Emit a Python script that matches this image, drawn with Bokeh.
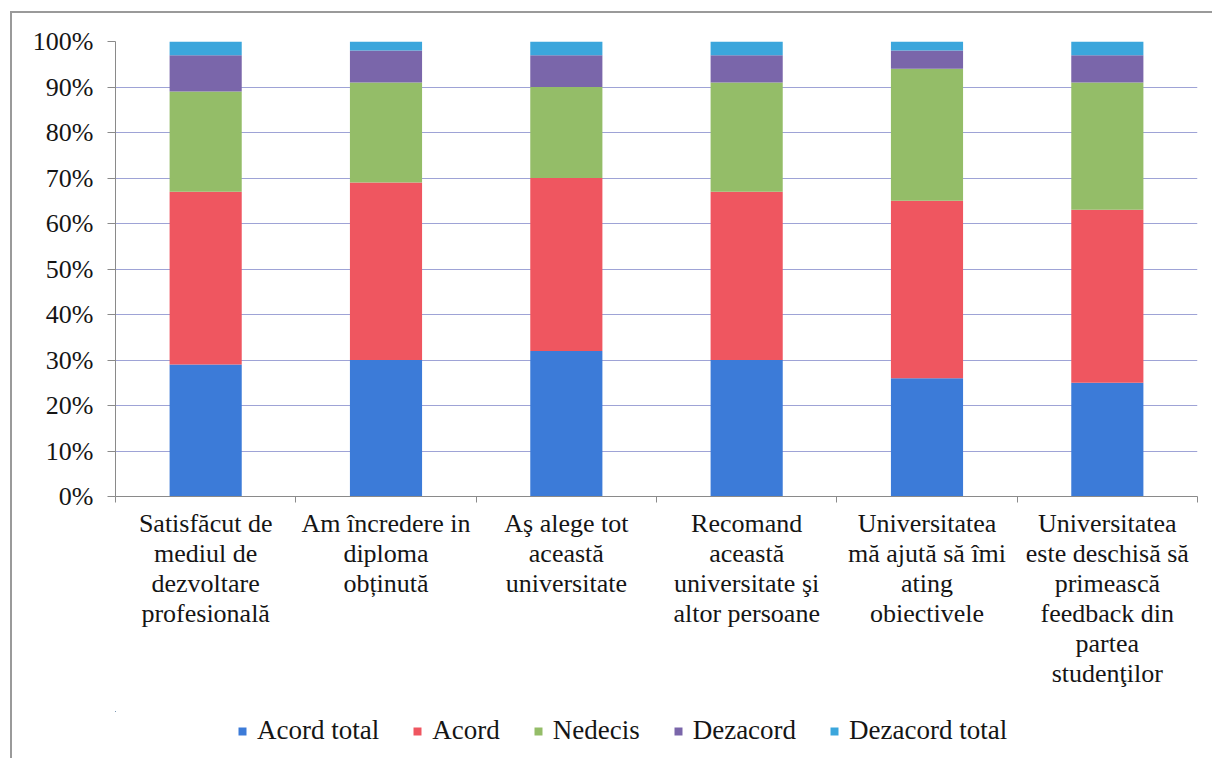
from bokeh.plotting import figure
from bokeh.layouts import column
from bokeh.models import (ColumnDataSource, Range1d, FixedTicker, PrintfTickFormatter,
                          Legend)
from bokeh.embed import file_html
from bokeh.resources import INLINE

categories = [
    "Satisfăcut de\nmediul de\ndezvoltare\nprofesională",
    "Am încredere in\ndiploma\nobținută",
    "Aş alege tot\naceastă\nuniversitate",
    "Recomand\naceastă\nuniversitate şi\naltor persoane",
    "Universitatea\nmă ajută să îmi\nating\nobiectivele",
    "Universitatea\neste deschisă să\nprimească\nfeedback din\npartea\nstudenţilor",
]
series_names = ["Acord total", "Acord", "Nedecis", "Dezacord", "Dezacord total"]
acord_total = [29, 30, 32, 30, 26, 25]
acord = [38, 39, 38, 37, 39, 38]
nedecis = [22, 22, 20, 24, 29, 28]
dezacord = [8, 7, 7, 6, 4, 6]
dezacord_total = [3, 2, 3, 3, 2, 3]
y_ticks = list(range(0, 101, 10))

colors = ["#3c7bd8", "#ef5660", "#94bd68", "#7a66aa", "#3ba6dc"]
FONT = "'Liberation Serif', 'Times New Roman', serif"
TXT = "#151515"
AX = "#8a8a8a"

xs = list(range(1, len(categories) + 1))
stack_keys = ["s0", "s1", "s2", "s3", "s4"]
source = ColumnDataSource(dict(
    x=xs,
    s0=acord_total, s1=acord, s2=nedecis, s3=dezacord, s4=dezacord_total,
))

W = 1200
p = figure(width=W, height=698, output_backend="svg", toolbar_location=None,
           x_range=Range1d(0.5, len(categories) + 0.5), y_range=Range1d(0, 100),
           min_border_left=103, min_border_right=15, min_border_top=28,
           min_border_bottom=215)
p.outline_line_color = None
p.background_fill_color = "white"
p.border_fill_color = "white"

renderers = p.vbar_stack(stack_keys, x="x", width=0.4,
                         color=colors, line_color=None, source=source)

# x axis
p.xaxis.ticker = FixedTicker(ticks=xs, minor_ticks=[x + 0.5 for x in [0] + xs])
p.xaxis.major_label_overrides = {x: c for x, c in zip(xs, categories)}
p.xaxis.major_tick_out = 0
p.xaxis.major_tick_in = 0
p.xaxis.minor_tick_out = 6
p.xaxis.minor_tick_in = 0
p.xaxis.minor_tick_line_color = AX
p.xaxis.axis_line_color = AX
p.xaxis.major_label_text_font = FONT
p.xaxis.major_label_text_font_size = "26px"
p.xaxis.major_label_text_color = TXT
p.xaxis.major_label_standoff = 6
p.xaxis.major_label_text_line_height = 1.04

# y axis
p.yaxis.ticker = FixedTicker(ticks=y_ticks)
p.yaxis.formatter = PrintfTickFormatter(format="%d%%")
p.yaxis.major_tick_out = 8
p.yaxis.major_tick_in = 0
p.yaxis.minor_tick_line_color = None
p.yaxis.axis_line_color = AX
p.yaxis.major_tick_line_color = AX
p.yaxis.major_label_text_font = FONT
p.yaxis.major_label_text_font_size = "26px"
p.yaxis.major_label_text_color = TXT
p.yaxis.major_label_standoff = 14

p.xgrid.grid_line_color = None
p.ygrid.grid_line_color = "#9ea3d6"
p.ygrid.grid_line_width = 1

# legend strip: same series, with ranges far from the data so only the legend shows
lf = figure(width=W, height=47, output_backend="svg", toolbar_location=None,
            x_range=Range1d(1000, 1001), y_range=Range1d(-1000, -999),
            x_axis_type=None, y_axis_type=None,
            min_border_left=0, min_border_right=0, min_border_top=0,
            min_border_bottom=0)
lf.outline_line_color = None
lf.xgrid.grid_line_color = None
lf.ygrid.grid_line_color = None
lrs = lf.vbar_stack(stack_keys, x="x", width=0.4, color=colors, line_color=None,
                    source=source)
legend = Legend(items=[(n, [r]) for n, r in zip(series_names, lrs)],
                orientation="horizontal", location=(122, 12),
                label_text_font=FONT, label_text_font_size="27px",
                label_text_color=TXT,
                glyph_width=10, glyph_height=10, label_standoff=10,
                spacing=33, padding=0, margin=0, border_line_color=None,
                background_fill_alpha=0, label_height=26)
lf.add_layout(legend, "center")

layout = column(p, lf, spacing=0)
layout.styles = {"margin-left": "10px", "margin-top": "11px",
                 "border-left": "2px solid #9a9a9a", "border-top": "2px solid #9a9a9a"}

open("out.html", "w").write(file_html(layout, INLINE))
